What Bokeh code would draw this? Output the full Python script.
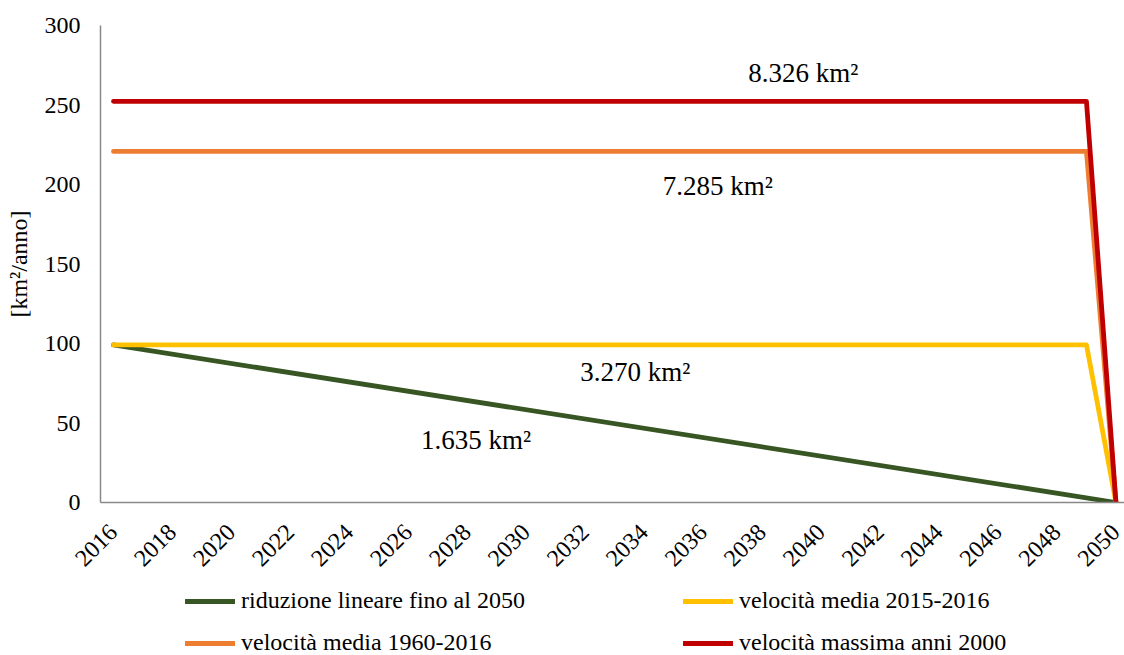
from math import pi
from bokeh.plotting import figure
from bokeh.layouts import column
from bokeh.models import Legend, LegendItem, Label, FixedTicker, Range1d
from bokeh.embed import file_html
from bokeh.resources import INLINE

# ---- data ----
tick_years = [2016, 2018, 2020, 2022, 2024, 2026, 2028, 2030, 2032, 2034,
              2036, 2038, 2040, 2042, 2044, 2046, 2048, 2050]
lin_years = [2016, 2050]
lin_vals = [99.1, 0.0]
step_years = [2016, 2049, 2050]
vel_1516 = [99.1, 99.1, 0.0]
vel_1960 = [220.8, 220.8, 0.0]
vel_max = [252.3, 252.3, 0.0]
series_names = ["riduzione lineare fino al 2050", "velocità media 2015-2016",
                "velocità media 1960-2016", "velocità massima anni 2000"]
series_colors = ["#375623", "#FFC000", "#ED7D31", "#C00000"]
area_texts = ["8.326 km²", "7.285 km²", "3.270 km²", "1.635 km²"]
area_x = [2039.4, 2036.5, 2033.7, 2028.3]
area_y = [270, 199, 82, 39]

FONT = "Liberation Serif"
LW = 4.8

p = figure(width=1124, height=587, output_backend="svg", toolbar_location=None,
           x_range=Range1d(2015.56, 2050.29), y_range=Range1d(0, 300),
           min_border_left=100, min_border_right=0, min_border_top=25,
           min_border_bottom=85)
p.outline_line_color = None
p.xgrid.visible = False
p.ygrid.visible = False

series = [(lin_years, lin_vals), (step_years, vel_1516), (step_years, vel_1960), (step_years, vel_max)]
for (xs, ys), c in zip(series, series_colors):
    p.line(xs, ys, line_color=c, line_width=LW, line_cap="round", line_join="round")

for ax in (p.xaxis[0], p.yaxis[0]):
    ax.axis_line_color = "#898989"
    ax.axis_line_width = 1.5
    ax.major_tick_line_color = None
    ax.minor_tick_line_color = None
    ax.major_tick_in = 0
    ax.major_tick_out = 0
    ax.major_label_text_font = FONT
    ax.major_label_text_font_size = "24px"
    ax.major_label_text_color = "#000000"

p.xaxis[0].ticker = FixedTicker(ticks=tick_years)
p.xaxis[0].major_label_orientation = pi / 4
p.xaxis[0].major_label_standoff = 26

p.yaxis[0].ticker = FixedTicker(ticks=[0, 50, 100, 150, 200, 250, 300])
p.yaxis[0].major_label_standoff = 20
p.yaxis[0].axis_label = "[km²/anno]"
p.yaxis[0].axis_label_text_font = FONT
p.yaxis[0].axis_label_text_font_size = "24px"
p.yaxis[0].axis_label_text_font_style = "normal"
p.yaxis[0].axis_label_text_color = "#000000"
p.yaxis[0].axis_label_standoff = 10

for t, x, y in zip(area_texts, area_x, area_y):
    p.add_layout(Label(x=x, y=y, text=t, text_font=FONT, text_font_size="27px",
                       text_align="center", text_baseline="middle", text_color="#000000"))

# ---- legend strip (same series drawn off-view, only the legend is visible) ----
lg = figure(width=1124, height=68, output_backend="svg", toolbar_location=None,
            x_axis_type=None, y_axis_type=None,
            x_range=Range1d(-10, -9), y_range=Range1d(-10, -9),
            min_border_left=0, min_border_right=0, min_border_top=0, min_border_bottom=0)
lg.outline_line_color = None
rends = [lg.line(xs, ys, line_color=c, line_width=LW, line_cap="round")
         for (xs, ys), c in zip(series, series_colors)]

legend = Legend(items=[LegendItem(label=n, renderers=[r]) for n, r in zip(series_names, rends)],
                orientation="horizontal", ncols=2, location=(85, -1),
                border_line_color=None, background_fill_alpha=0,
                padding=0, margin=0, spacing=15, glyph_width=50, glyph_height=24,
                label_height=24, label_width=427, label_standoff=6,
                label_text_font=FONT, label_text_font_size="24px", label_text_color="#000000")
lg.add_layout(legend, "center")

open("out.html", "w").write(file_html(column(p, lg, spacing=0), INLINE))
